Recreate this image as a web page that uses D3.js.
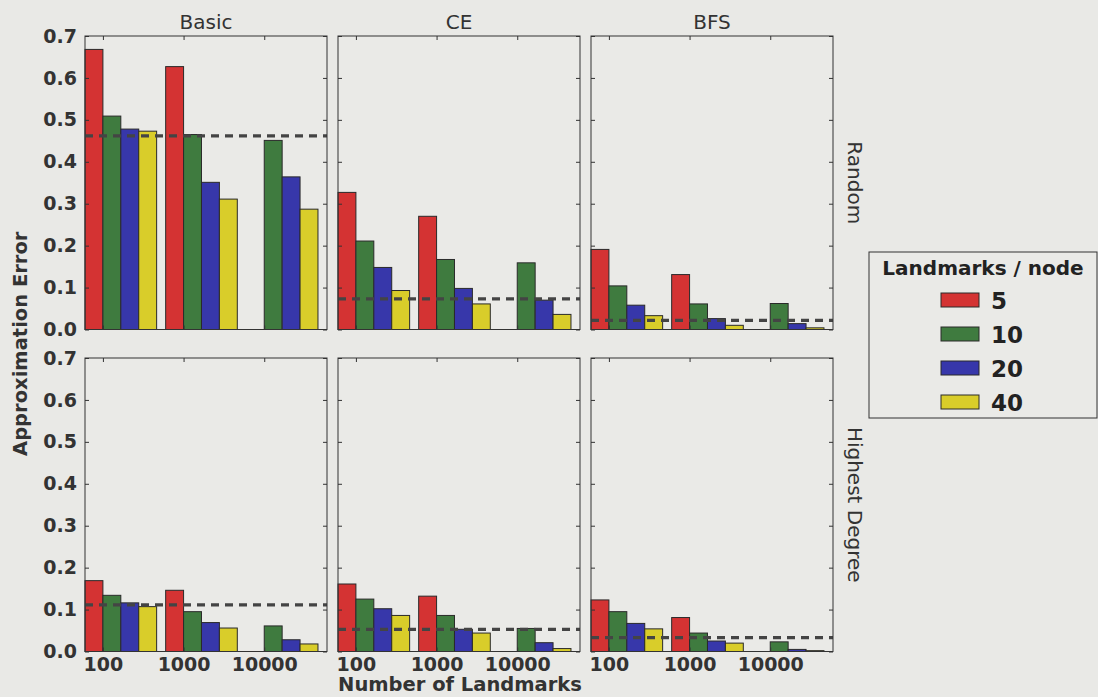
<!DOCTYPE html>
<html>
<head>
<meta charset="utf-8">
<script src="https://cdn.jsdelivr.net/npm/d3@7"></script>
<style>
  html, body { margin: 0; padding: 0; background: #e9e9e6; }
  svg { display: block; font-family: "DejaVu Sans", sans-serif; }
</style>
</head>
<body>
<svg id="chart" width="1098" height="697"></svg>
<script>
// facets
const methods = ["Basic", "CE", "BFS"];
const selections = ["Random", "Highest Degree"];
const landmarkCounts = ["100", "1000", "10000"];
const perNode = ["5", "10", "20", "40"];
const barColors = ["#d43333", "#3f7b3f", "#3737aa", "#d9cd2a"];

// rows = landmarks/node (5,10,20,40), cols = number of landmarks (100,1000,10000)
const basicRandom = [
  [0.668, 0.627, 0],
  [0.509, 0.465, 0.451],
  [0.478, 0.351, 0.364],
  [0.473, 0.311, 0.287]
];
const ceRandom = [
  [0.327, 0.270, 0],
  [0.211, 0.167, 0.159],
  [0.148, 0.098, 0.070],
  [0.093, 0.061, 0.036]
];
const bfsRandom = [
  [0.191, 0.131, 0],
  [0.104, 0.061, 0.062],
  [0.058, 0.026, 0.014],
  [0.033, 0.010, 0.004]
];
const basicDegree = [
  [0.169, 0.146, 0],
  [0.134, 0.095, 0.061],
  [0.116, 0.069, 0.028],
  [0.107, 0.056, 0.018]
];
const ceDegree = [
  [0.161, 0.132, 0],
  [0.125, 0.086, 0.055],
  [0.102, 0.053, 0.021],
  [0.086, 0.044, 0.007]
];
const bfsDegree = [
  [0.123, 0.081, 0],
  [0.095, 0.044, 0.023],
  [0.067, 0.025, 0.005],
  [0.054, 0.020, 0.002]
];
// dashed reference level per panel
const baselineRandom = [0.462, 0.073, 0.022];
const baselineDegree = [0.111, 0.053, 0.033];

const panels = [
  [basicRandom, ceRandom, bfsRandom],
  [basicDegree, ceDegree, bfsDegree]
];
const baselines = [baselineRandom, baselineDegree];

const svg = d3.select("#chart");
const ink = "#333";

const colLeft = [85, 338, 591];
const rowTop = [36, 358];
const pw = 242, ph = 293.5;
const bw = 0.222;

const x = d3.scaleLinear().domain([0, 3]).range([0, pw]);
const y = d3.scaleLinear().domain([0, 0.7]).range([ph, 0]);
const yTicks = d3.range(0, 8).map(i => i / 10);
const xTicks = landmarkCounts.map((d, i) => i + bw);

selections.forEach((sel, r) => {
  methods.forEach((m, c) => {
    const g = svg.append("g")
      .attr("transform", `translate(${colLeft[c]},${rowTop[r]})`);
    const data = panels[r][c];

    g.append("rect")
      .attr("width", pw).attr("height", ph)
      .attr("fill", "#eaeae7");

    data.forEach((series, k) => {
      g.selectAll(null)
        .data(series)
        .enter().append("rect")
        .attr("x", (v, i) => x(i + k * bw))
        .attr("y", v => y(v))
        .attr("width", x(bw) - x(0))
        .attr("height", v => y(0) - y(v))
        .attr("fill", barColors[k])
        .attr("stroke", "#2a2a2a")
        .attr("stroke-width", 1);
    });

    g.append("line")
      .attr("x1", 0).attr("x2", pw)
      .attr("y1", y(baselines[r][c])).attr("y2", y(baselines[r][c]))
      .attr("stroke", "#444")
      .attr("stroke-width", 3.3)
      .attr("stroke-dasharray", "8,6");

    // inward ticks on all four sides
    const left = g.append("g").call(
      d3.axisLeft(y).tickValues(yTicks).tickSizeInner(-4).tickSizeOuter(0).tickPadding(8)
        .tickFormat(c === 0 ? d3.format(".1f") : () => ""));
    const right = g.append("g").attr("transform", `translate(${pw},0)`).call(
      d3.axisRight(y).tickValues(yTicks).tickSizeInner(-4).tickSizeOuter(0).tickFormat(() => ""));
    const top = g.append("g").call(
      d3.axisTop(x).tickValues(xTicks).tickSizeInner(-4).tickSizeOuter(0).tickFormat(() => ""));
    const bottom = g.append("g").attr("transform", `translate(0,${ph})`).call(
      d3.axisBottom(x).tickValues(xTicks).tickSizeInner(-4).tickSizeOuter(0).tickPadding(6)
        .tickFormat(r === 1 ? (d, i) => landmarkCounts[i] : () => ""));

    [left, right, top, bottom].forEach(a => {
      a.select(".domain").remove();
      a.selectAll(".tick line").attr("stroke", ink);
      a.selectAll("text")
        .attr("font-family", "DejaVu Sans")
        .attr("font-weight", "bold")
        .attr("font-size", 19)
        .attr("fill", ink);
    });

    g.append("rect")
      .attr("width", pw).attr("height", ph)
      .attr("fill", "none")
      .attr("stroke", ink)
      .attr("stroke-width", 1);

    if (r === 0) {
      svg.append("text")
        .attr("x", colLeft[c] + pw / 2).attr("y", 29)
        .attr("text-anchor", "middle")
        .attr("font-size", 20)
        .attr("fill", ink)
        .text(m);
    }
  });

  svg.append("text")
    .attr("transform", `translate(848,${rowTop[r] + ph / 2}) rotate(90)`)
    .attr("text-anchor", "middle")
    .attr("font-size", 20)
    .attr("fill", ink)
    .text(sel);
});

// axis titles
svg.append("text")
  .attr("x", 460).attr("y", 691)
  .attr("text-anchor", "middle")
  .attr("font-size", 19.5)
  .attr("font-weight", "bold")
  .attr("fill", ink)
  .text("Number of Landmarks");

svg.append("text")
  .attr("transform", `translate(27,${(rowTop[0] + rowTop[1] + ph) / 2}) rotate(-90)`)
  .attr("text-anchor", "middle")
  .attr("font-size", 19.5)
  .attr("font-weight", "bold")
  .attr("fill", ink)
  .text("Approximation Error");

// legend
const lg = svg.append("g").attr("transform", "translate(869,252)");
lg.append("rect")
  .attr("width", 228).attr("height", 166)
  .attr("fill", "#eaeae7")
  .attr("stroke", ink)
  .attr("stroke-width", 1);
lg.append("text")
  .attr("x", 114).attr("y", 23)
  .attr("text-anchor", "middle")
  .attr("font-size", 20)
  .attr("font-weight", "bold")
  .attr("fill", "#222")
  .text("Landmarks / node");

const item = lg.selectAll(".item")
  .data(perNode)
  .enter().append("g")
  .attr("transform", (d, i) => `translate(0,${48 + i * 34})`);
item.append("rect")
  .attr("x", 72).attr("y", -7)
  .attr("width", 38).attr("height", 14)
  .attr("fill", (d, i) => barColors[i])
  .attr("stroke", "#2a2a2a");
item.append("text")
  .attr("x", 122).attr("y", 8.5)
  .attr("font-size", 23)
  .attr("font-weight", "bold")
  .attr("fill", "#222")
  .text(d => d);
</script>
</body>
</html>
